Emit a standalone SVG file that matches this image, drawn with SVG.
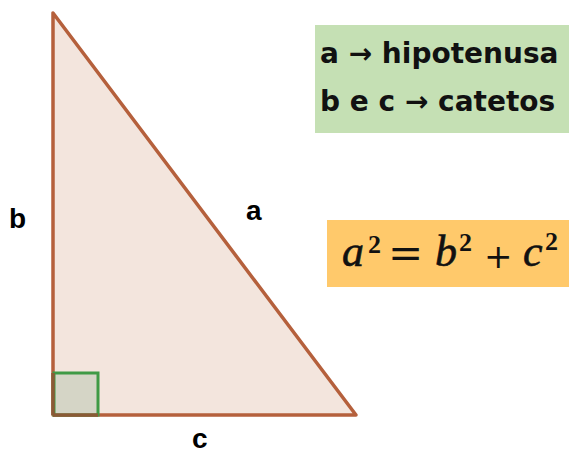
<svg xmlns="http://www.w3.org/2000/svg" width="571" height="452" viewBox="0 0 571 452">
<style>
.lbl{font-family:"Liberation Sans",Arial,sans-serif;font-weight:bold;font-size:28px;fill:#000}
.box{font-family:"DejaVu Sans","Liberation Sans",sans-serif;font-weight:bold;font-size:28px;fill:#111}
.mi{font-family:"Liberation Serif","DejaVu Serif",serif;font-style:italic;font-size:44px;fill:#111;stroke:#111;stroke-width:0.6}
.sup{font-family:"Liberation Serif","DejaVu Serif",serif;font-weight:bold;font-size:26px;fill:#111}
.op{font-family:"DejaVu Serif",serif;fill:#111}
</style>
<rect width="571" height="452" fill="#ffffff"/>
<g id="triangle">
<polygon points="53,13 53,415 356,415" fill="#f3e5dd" stroke="#b5603c" stroke-width="3.5" stroke-linejoin="round"/>
<rect x="54" y="373" width="44" height="42" fill="#d5d5c6" stroke="#3f9a45" stroke-width="3"/>
<line x1="53" y1="373" x2="53" y2="415" stroke="#8a5a36" stroke-width="3.5"/>
<line x1="53" y1="415" x2="98" y2="415" stroke="#8a5a36" stroke-width="3.5"/>
</g>
<g id="labels">
<text class="lbl" x="9" y="228">b</text>
<text class="lbl" x="246" y="220">a</text>
<text class="lbl" x="192" y="448">c</text>
</g>
<g id="legend">
<rect x="315" y="25" width="254" height="108" fill="#c5e0b4"/>
<text class="box" x="320" y="63">a → hipotenusa</text>
<text class="box" x="320" y="111">b e c → catetos</text>
</g>
<g id="formula">
<rect x="327" y="220" width="242" height="67" fill="#ffc96b"/>
<text class="mi" x="342" y="266">a</text>
<text class="sup" x="368" y="253">2</text>
<text class="op" x="388" y="268" font-size="42">=</text>
<text class="mi" x="435" y="266">b</text>
<text class="sup" x="459" y="251">2</text>
<text class="op" x="484" y="268" font-size="34">+</text>
<text class="mi" x="523" y="266">c</text>
<text class="sup" x="545" y="250">2</text>
</g>
</svg>
